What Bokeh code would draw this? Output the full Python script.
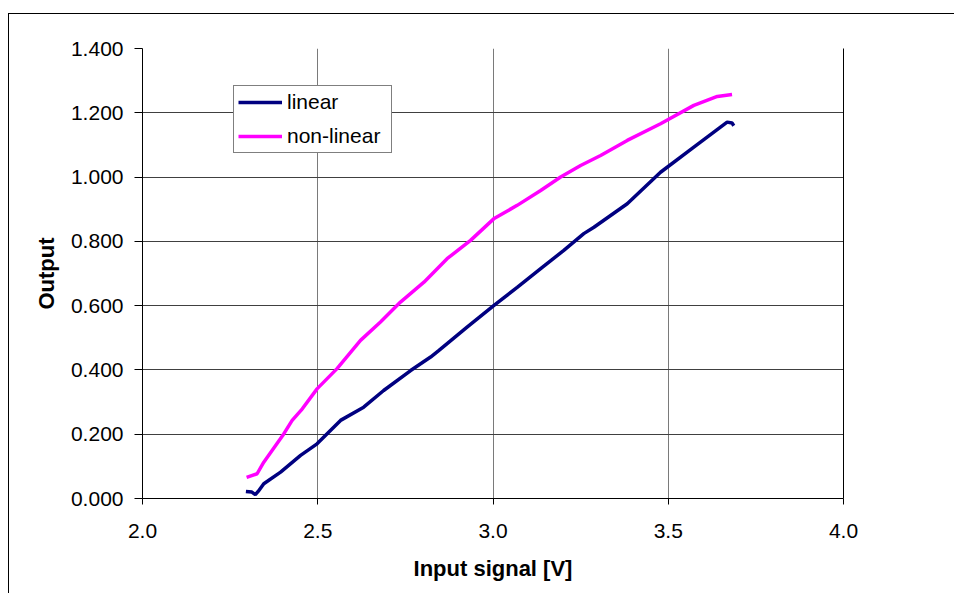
from bokeh.plotting import figure
from bokeh.models import LinearAxis, FixedTicker, NumeralTickFormatter, Legend, LegendItem, Range1d
from bokeh.embed import file_html
from bokeh.resources import INLINE

# data
lin_x = [2.295, 2.312, 2.322, 2.330, 2.346, 2.394, 2.451, 2.498, 2.565, 2.631, 2.688, 2.765,
         2.822, 2.845, 2.926, 3.002, 3.069, 3.136, 3.202, 3.259, 3.288, 3.383, 3.478, 3.573,
         3.668, 3.682, 3.687]
lin_y = [0.022, 0.020, 0.012, 0.022, 0.046, 0.082, 0.134, 0.170, 0.243, 0.284, 0.336, 0.398,
         0.440, 0.460, 0.533, 0.600, 0.657, 0.715, 0.772, 0.824, 0.844, 0.917, 1.015, 1.093,
         1.171, 1.168, 1.160]
nl_x = [2.297, 2.327, 2.346, 2.403, 2.427, 2.456, 2.498, 2.555, 2.622, 2.679, 2.736, 2.803,
        2.869, 2.936, 3.002, 3.069, 3.136, 3.193, 3.250, 3.307, 3.383, 3.478, 3.573, 3.640, 3.682]
nl_y = [0.066, 0.077, 0.113, 0.201, 0.243, 0.279, 0.341, 0.404, 0.492, 0.549, 0.611, 0.673,
        0.746, 0.803, 0.870, 0.912, 0.958, 1.000, 1.036, 1.067, 1.114, 1.166, 1.223, 1.251, 1.257]
x_ticks = [2.0, 2.5, 3.0, 3.5, 4.0]
y_ticks = [0.0, 0.2, 0.4, 0.6, 0.8, 1.0, 1.2, 1.4]

FONT = "Liberation Sans"

p = figure(width=946, height=580, output_backend="svg", toolbar_location=None,
           x_range=Range1d(2.0, 4.0), y_range=Range1d(0.0, 1.4),
           min_border_left=133, min_border_top=34, min_border_right=112, min_border_bottom=96,
           background_fill_color="white", border_fill_color="white")
p.styles = {"border-left": "1px solid black", "border-top": "1px solid black"}
p.margin = (13, 0, 0, 8)
p.outline_line_color = None

# axes
for ax in (p.xaxis[0], p.yaxis[0]):
    ax.axis_line_color = "black"
    ax.axis_line_width = 1
    ax.major_tick_line_color = "black"
    ax.minor_tick_line_color = None
    ax.major_tick_in = 0
    ax.major_label_text_font = FONT
    ax.major_label_text_font_size = "21px"
    ax.major_label_text_color = "black"
    ax.axis_label_text_font = FONT
    ax.axis_label_text_font_size = "22px"
    ax.axis_label_text_font_style = "bold"
    ax.axis_label_text_color = "black"

p.xaxis.ticker = FixedTicker(ticks=x_ticks)
p.yaxis.ticker = FixedTicker(ticks=y_ticks)
p.xaxis.formatter = NumeralTickFormatter(format="0.0")
p.yaxis.formatter = NumeralTickFormatter(format="0.000")
p.xaxis.major_tick_out = 6
p.yaxis.major_tick_out = 8
p.xaxis.major_label_standoff = 19
p.yaxis.major_label_standoff = 11
p.xaxis.axis_label = "Input signal [V]"
p.yaxis.axis_label = "Output"
p.xaxis.axis_label_standoff = 15
p.yaxis.axis_label_standoff = 9

right = LinearAxis(ticker=FixedTicker(ticks=[]), major_label_text_font_size="0px",
                   major_tick_out=0, major_tick_in=0, minor_tick_out=0, minor_tick_in=0,
                   axis_line_color="black")
p.add_layout(right, "right")

# grids
p.xgrid.grid_line_color = "#7a7a7a"
p.ygrid.grid_line_color = "#404040"
p.xgrid.grid_line_width = 1
p.ygrid.grid_line_width = 1

r1 = p.line(lin_x, lin_y, line_color="#000080", line_width=3.5)
r2 = p.line(nl_x, nl_y, line_color="#FF00FF", line_width=3.5)

legend = Legend(items=[LegendItem(label="linear", renderers=[r1]),
                       LegendItem(label="non-linear", renderers=[r2])],
                location=(91, 345))
legend.label_text_font = FONT
legend.label_text_font_size = "21px"
legend.label_text_color = "black"
legend.border_line_color = "black"
legend.border_line_width = 1
legend.background_fill_color = "white"
legend.background_fill_alpha = 1
legend.padding = 4
legend.spacing = 10
legend.glyph_width = 44
legend.glyph_height = 24
legend.label_height = 24
legend.label_width = 100
legend.label_standoff = 5
legend.margin = 0
p.add_layout(legend, "center")

open("out.html", "w").write(file_html(p, INLINE))
